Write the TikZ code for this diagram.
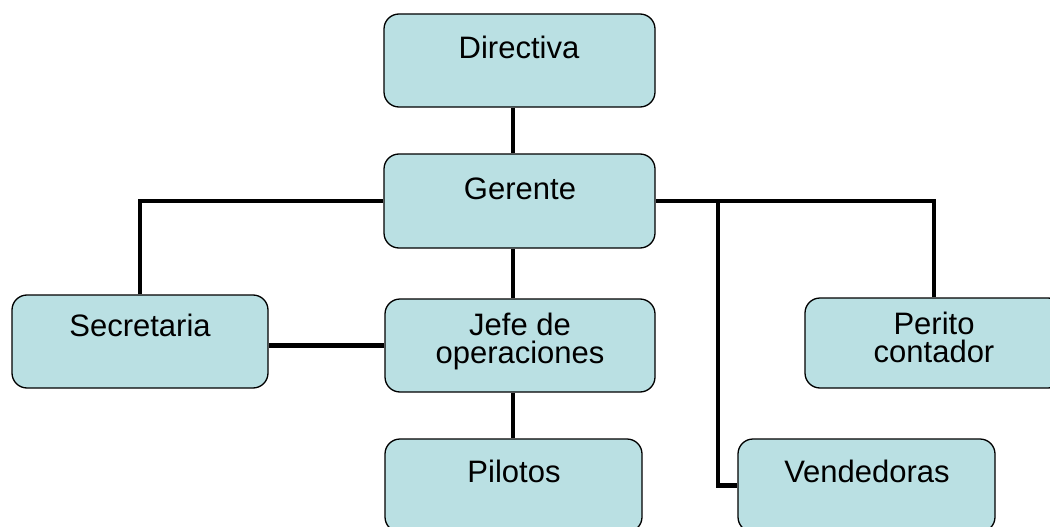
\documentclass[tikz,border=0pt]{standalone}
\usepackage{fontspec}
\setmainfont{Liberation Sans}
\definecolor{boxfill}{RGB}{186,224,227}
\tikzset{
  orgbox/.style={draw=black, line width=1.3pt, fill=boxfill,
    rounded corners=15pt, inner sep=0pt},
  orgtext/.style={anchor=base, align=center, inner sep=0pt,
    font=\fontsize{31}{28}\selectfont},
  conn/.style={draw=black, line width=4.5pt}
}
\begin{document}
\begin{tikzpicture}[x=1pt, y=-1pt]
  \useasboundingbox (0,0) rectangle (1050,527);
  \clip (0,0) rectangle (1050,527);

  % vertical spine through the centre column and the branch to the sales team
  \coordinate (spine) at (513,0);
  \coordinate (vjoin) at (718,201);

  % boxes
  \node[orgbox, minimum width=271pt, minimum height=93pt] (dir) at (519.5,60.5) {};
  \node[orgbox, minimum width=271pt, minimum height=94pt] (ger) at (519.5,201) {};
  \node[orgbox, minimum width=256pt, minimum height=93pt] (sec) at (140,341.5) {};
  \node[orgbox, minimum width=270pt, minimum height=93pt] (jefe) at (520,345.5) {};
  \node[orgbox, minimum width=258pt, minimum height=90pt] (per) at (934,343) {};
  \node[orgbox, minimum width=257pt, minimum height=93pt] (pil) at (513.5,485.5) {};
  \node[orgbox, minimum width=257pt, minimum height=93pt] (ven) at (866.5,485.5) {};

  % connectors
  \draw[conn] (dir.south -| spine) -- (ger.north -| spine);
  \draw[conn] (sec.north) |- (ger.west);
  \draw[conn] (per.north) |- (ger.east);
  \draw[conn] (vjoin) |- (ven.west);
  \draw[conn] (ger.south -| spine) -- (jefe.north -| spine);
  \draw[conn] (jefe.west) -- (jefe.west -| sec.east);
  \draw[conn] (jefe.south -| spine) -- (pil.north -| spine);

  % labels
  \node[orgtext] (tdir) at (519,59) {Directiva};
  \node[orgtext] (tger) at (520,199) {Gerente};
  \node[orgtext] (tsec) at (140,336) {Secretaria};
  \node[orgtext] (tjefe) at (520,363) {Jefe de\\operaciones};
  \node[orgtext] (tper) at (934,362) {Perito\\contador};
  \node[orgtext] (tpil) at (514,482) {Pilotos};
  \node[orgtext] (tven) at (867,482) {Vendedoras};
\end{tikzpicture}
\end{document}
